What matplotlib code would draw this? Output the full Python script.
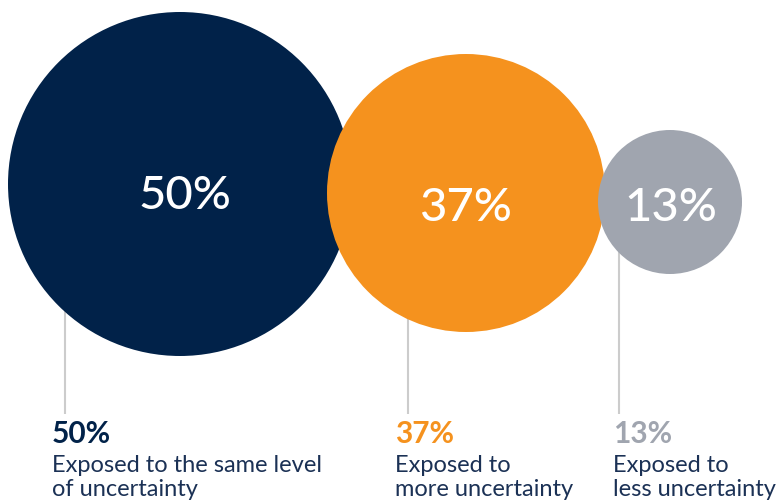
import matplotlib
matplotlib.use("Agg")
import matplotlib.pyplot as plt
from matplotlib.patches import Circle

# datos
values = [50, 37, 13]
pct_labels = ["50%", "37%", "13%"]
desc_line1 = ["Exposed to the same level", "Exposed to", "Exposed to"]
desc_line2 = ["of uncertainty", "more uncertainty", "less uncertainty"]

# layout (pixels)
centers = [(180, 184), (466, 193), (670, 202)]
radii = [172, 139, 72]
colors = ["#012249", "#F5921E", "#A0A5AF"]
num_pos = [(185, 192), (465, 204), (671, 204)]
line_x = [65, 408, 619]
label_x = [52, 395, 613]
line_end = 414

plt.rcParams['font.family'] = ['Lato', 'DejaVu Sans']

fig = plt.figure(figsize=(7.77, 5.01), dpi=100)
ax = fig.add_axes([0, 0, 1, 1])
ax.set_xlim(0, 777)
ax.set_ylim(501, 0)
ax.set_aspect("equal")
ax.axis("off")

for i, v in enumerate(values):
    cx, cy = centers[i]
    r = radii[i]
    ax.add_patch(Circle((cx, cy), r, color=colors[i], zorder=2 + i, lw=0))
    ax.text(num_pos[i][0], num_pos[i][1], pct_labels[i], color="white",
            fontsize=34, fontweight="medium", ha="center", va="center_baseline",
            zorder=10)
    # linea guia (queda debajo del circulo)
    ax.plot([line_x[i], line_x[i]], [cy, line_end], color="#CCCCCC",
            lw=1.5, zorder=1, solid_capstyle="butt")
    ax.text(label_x[i], 443, pct_labels[i], color=colors[i], fontsize=21.5,
            fontweight="bold", ha="left", va="baseline")
    ax.text(label_x[i], 472, desc_line1[i], color="#1B3155", fontsize=17,
            ha="left", va="baseline")
    ax.text(label_x[i], 496, desc_line2[i], color="#1B3155", fontsize=17,
            ha="left", va="baseline")

fig.savefig("out.png", dpi=100)
